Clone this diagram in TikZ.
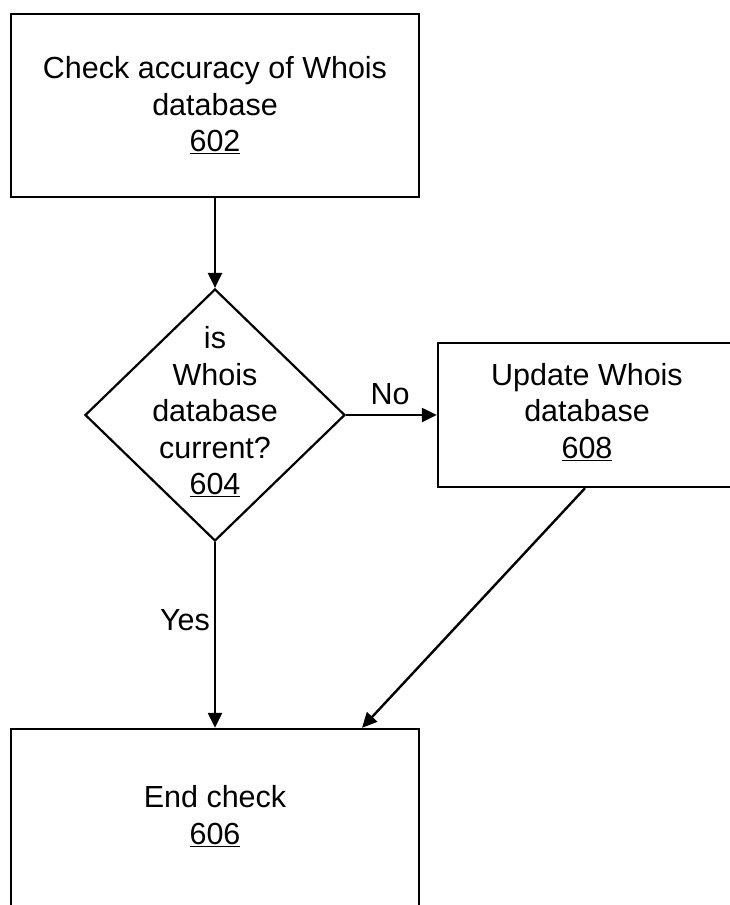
\documentclass[tikz,border=0pt]{standalone}
\usepackage{fontspec}
\setmainfont{Liberation Sans}
\usetikzlibrary{shapes.geometric,arrows.meta}
\begin{document}
\begin{tikzpicture}[x=1bp,y=-1bp,
  line width=2.4bp,
  txt/.style={align=center,inner sep=0pt,font=\fontsize{30.5bp}{36.5bp}\selectfont},
  box/.style={draw,rectangle,inner sep=0pt,line width=2.4bp},
  arr/.style={-{Triangle[length=15bp,width=14bp]},line width=2.4bp}]
\clip (0,0) rectangle (730,905);
\node[box,minimum width=408bp,minimum height=183bp] (chk) at (215,105.5) {};
\node[txt] (chkt) at (chk.center) {Check accuracy of Whois\\database\\\underline{602}};
\node[draw,diamond,inner sep=0pt,minimum width=260bp,minimum height=252bp,line width=2.2bp] (dec) at (215,415) {};
\node[txt] (dect) at (215,412) {is\\Whois\\database\\current?\\\underline{604}};
\node[box,minimum width=298bp,minimum height=144bp] (upd) at (587,415) {};
\node[txt] (updt) at (587,412) {Update Whois\\database\\\underline{608}};
\node[box,minimum width=408bp,minimum height=179bp] (endb) at (215,818.5) {};
\node[txt] (endt) at (215,816) {End check\\\underline{606}};
\node[txt] (no) at (390,394) {No};
\node[txt] (yes) at (185,620) {Yes};
\draw[arr] (chk.south) -- (dec.north);
\draw[arr] (dec.east) -- (upd.west);
\draw[arr] (dec.south) -- (endb.north);
\draw[arr] ([xshift=-2bp]upd.south) -- ([xshift=147bp]endb.north);
\end{tikzpicture}
\end{document}
